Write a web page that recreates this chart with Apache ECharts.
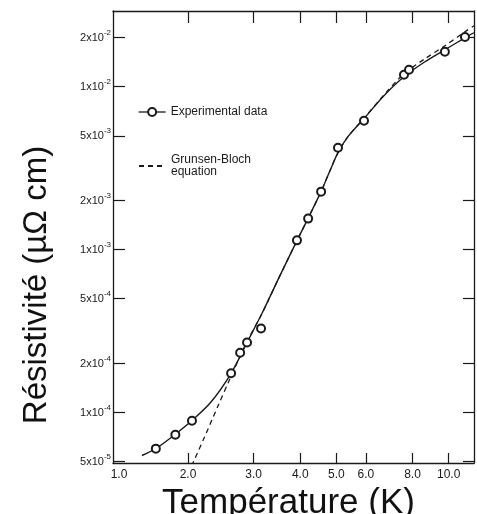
<!DOCTYPE html>
<html><head><meta charset="utf-8">
<script src="https://cdn.jsdelivr.net/npm/echarts@6/dist/echarts.min.js"></script>
<style>html,body{margin:0;padding:0;background:#fff}#c{width:477px;height:514px}</style>
</head><body><div id="c"></div>
<script>
// Experimental data (T in K, resistivity in µΩ cm)
const expT = [1.64, 1.85, 2.05, 2.61, 2.76, 2.88, 3.14, 3.92, 4.20, 4.55, 5.05, 5.93, 7.59, 7.83, 9.77, 11.06];
const expR = [6.0e-5, 7.3e-5, 8.9e-5, 1.74e-4, 2.33e-4, 2.69e-4, 3.28e-4, 1.14e-3, 1.55e-3, 2.27e-3, 4.22e-3, 6.18e-3, 1.185e-2, 1.27e-2, 1.64e-2, 2.02e-2];
// Smooth curve through experimental data
const fitT = [1.505, 1.641, 1.846, 2.05, 2.299, 2.608, 2.879, 3.158, 3.508, 3.92, 4.195, 4.547, 4.806, 5.05, 5.37, 5.927, 6.706, 7.589, 8.64, 9.772, 11.06, 11.69];
const fitR = [5.445e-5, 6.01e-5, 7.33e-5, 8.93e-5, 1.151e-4, 1.735e-4, 2.688e-4, 4.05e-4, 6.73e-4, 1.136e-3, 1.55e-3, 2.269e-3, 3.052e-3, 3.936e-3, 4.935e-3, 6.364e-3, 8.808e-3, 1.1515e-2, 1.4237e-2, 1.6866e-2, 1.998e-2, 2.145e-2];
// Grunsen-Bloch equation curve
const gbT = [2.0, 2.2, 2.4, 2.6, 2.757, 2.879, 3.158, 3.508, 3.92, 4.195, 4.547, 4.806, 5.05, 5.37, 5.927, 6.706, 7.589, 8.64, 9.772, 11.06, 11.69];
const gbR = [4.19e-5, 6.82e-5, 1.08e-4, 1.64e-4, 2.206e-4, 2.726e-4, 4.05e-4, 6.73e-4, 1.136e-3, 1.55e-3, 2.269e-3, 3.052e-3, 3.936e-3, 4.935e-3, 6.4e-3, 8.9e-3, 1.202e-2, 1.485e-2, 1.784e-2, 2.175e-2, 2.366e-2];
// Tick marks and labels
const xTicks = [2, 3, 4, 5, 6, 8, 10];
const xTickLabels = ['1.0', '2.0', '3.0', '4.0', '5.0', '6.0', '8.0', '10.0'];
const xLabelValues = [1, 2, 3, 4, 5, 6, 8, 10];
const yTicks = [5e-5, 1e-4, 2e-4, 5e-4, 1e-3, 2e-3, 5e-3, 1e-2, 2e-2];
const yMant = ['5', '1', '2', '5', '1', '2', '5', '1', '2'];
const yExp = ['-5', '-4', '-4', '-4', '-3', '-3', '-3', '-2', '-2'];

const L = Math.log10;
const xMin = 0.100, xMax = 1.068;
const yMin = -4.31, yMax = -1.535;
const ink = '#1a1a1a';
const font = 'Liberation Sans';

const xLabelPos = xLabelValues.map(v => Math.max(L(v), xMin + 0.016));
function xFmt(v) {
  let best = 0, d = 1e9;
  xLabelPos.forEach((p, i) => { if (Math.abs(p - v) < d) { d = Math.abs(p - v); best = i; } });
  return xTickLabels[best];
}
function yFmt(v) {
  let best = 0, d = 1e9;
  yTicks.forEach((t, i) => { const dd = Math.abs(L(t) - v); if (dd < d) { d = dd; best = i; } });
  return '{m|' + yMant[best] + 'x10}{e|' + yExp[best] + '}';
}
const pairs = (a, b) => a.map((t, i) => [L(t), L(b[i])]);

const chart = echarts.init(document.getElementById('c'));
chart.setOption({
  backgroundColor: '#fff',
  animation: false,
  grid: { left: 113, right: 3, top: 11, bottom: 51, containLabel: false, outerBoundsMode: 'none' },
  legend: [
    { left: 133, top: 101, orient: 'vertical', itemWidth: 27, itemHeight: 10,
      textStyle: { fontFamily: font, fontSize: 12, color: ink },
      data: [{ name: 'Experimental data', lineStyle: { opacity: 1, width: 1.3, color: ink } }] },
    { left: 133, top: 149, orient: 'vertical', itemWidth: 27, itemHeight: 10,
      textStyle: { fontFamily: font, fontSize: 12, color: ink, lineHeight: 12 },
      formatter: n => n.replace(' ', '\n'),
      data: ['Grunsen-Bloch equation'] }
  ],
  xAxis: [{
    type: 'value', min: xMin, max: xMax, position: 'bottom',
    name: 'Température (K)', nameLocation: 'middle', nameGap: 18,
    nameTextStyle: { fontFamily: font, fontSize: 35, color: '#111', padding: [0, 10, 0, 0] },
    axisLine: { lineStyle: { color: ink, width: 1.3 } },
    axisTick: { inside: true, length: 10, customValues: xTicks.map(L), lineStyle: { color: ink, width: 1.2 } },
    axisLabel: { customValues: xLabelPos, formatter: xFmt, fontFamily: font, fontSize: 12, color: ink, margin: 6 },
    splitLine: { show: false }
  }, {
    type: 'value', min: xMin, max: xMax, position: 'top',
    axisLine: { show: true, onZero: false, lineStyle: { color: ink, width: 1.3 } },
    axisTick: { show: true, inside: true, length: 12, customValues: xTicks.map(L), lineStyle: { color: ink, width: 1.2 } },
    axisLabel: { show: false }, splitLine: { show: false }
  }],
  yAxis: [{
    type: 'value', min: yMin, max: yMax, position: 'left',
    name: 'Résistivité (µΩ cm)', nameLocation: 'middle', nameGap: 60,
    nameTextStyle: { fontFamily: font, fontSize: 33, color: '#111', padding: [0, 96, 0, 0] },
    axisLine: { lineStyle: { color: ink, width: 1.3 } },
    axisTick: { inside: true, length: 12, customValues: yTicks.map(L), lineStyle: { color: ink, width: 1.2 } },
    axisLabel: {
      customValues: yTicks.map(L), formatter: yFmt, margin: 2,
      rich: {
        m: { fontFamily: font, fontSize: 11, color: ink },
        e: { fontFamily: font, fontSize: 8, color: ink, padding: [0, 0, 10, 0] }
      }
    },
    splitLine: { show: false }
  }, {
    type: 'value', min: yMin, max: yMax, position: 'right',
    axisLine: { show: true, onZero: false, lineStyle: { color: ink, width: 1.3 } },
    axisTick: { show: true, inside: true, length: 11, customValues: yTicks.map(L), lineStyle: { color: ink, width: 1.2 } },
    axisLabel: { show: false }, splitLine: { show: false }
  }],
  series: [
    { name: 'fit', type: 'line', smooth: 0.3, symbol: 'none', data: pairs(fitT, fitR),
      lineStyle: { color: ink, width: 1.4 }, itemStyle: { color: ink }, z: 2 },
    { name: 'Grunsen-Bloch equation', type: 'line', smooth: 0.3, symbol: 'none', data: pairs(gbT, gbR),
      lineStyle: { color: ink, width: 1.3, type: [5, 4] }, itemStyle: { color: 'rgba(0,0,0,0)' }, z: 3 },
    { name: 'Experimental data', type: 'line', symbol: 'emptyCircle', symbolSize: 8, data: pairs(expT, expR),
      lineStyle: { width: 0, opacity: 0 }, itemStyle: { color: ink, borderWidth: 1.2 }, z: 5 }
  ]
});
</script>
</body></html>
